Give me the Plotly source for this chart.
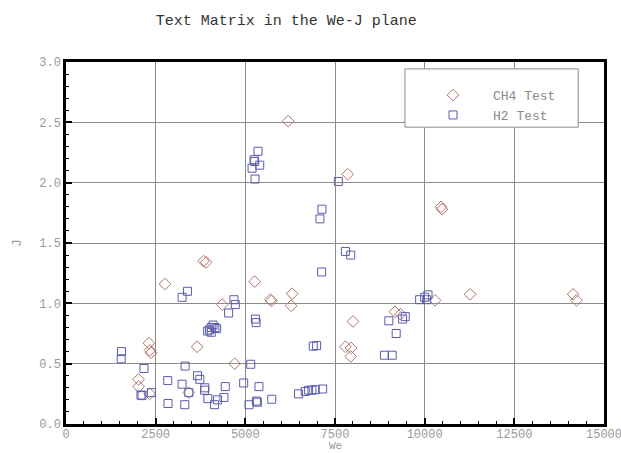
import plotly.graph_objects as go

# CH4 tests (diamonds)
ch4_we = [6194, 7854, 10457, 10485, 3834, 3909, 2761, 5260, 4357, 5700, 5730,
          6306, 6278, 8003, 7789, 7948, 7938, 9170, 9328, 10290, 11269, 14139,
          14231, 2310, 2340, 2370, 3657, 4702, 2024, 2024, 2332, 3424]
ch4_j = [2.51, 2.07, 1.80, 1.78, 1.35, 1.34, 1.16, 1.18, 0.99, 1.03, 1.02,
         1.08, 0.98, 0.85, 0.64, 0.63, 0.56, 0.93, 0.91, 1.025, 1.075, 1.075,
         1.025, 0.67, 0.61, 0.59, 0.64, 0.50, 0.37, 0.31, 0.25, 0.26]

# H2 tests (squares)
h2_we = [5354, 5243, 5260, 5401, 5187, 5270, 7593, 7136, 7080, 7790, 7938, 7127,
         3386, 3237, 4683, 4720, 4534, 5280, 5300,
         3950, 4000, 4050, 4100, 4150, 4200, 4050,
         1548, 1539, 2173, 3321, 5150, 3666, 3731, 2836, 3237, 3872, 3863,
         2090, 2120, 2380, 4440, 4403, 3955, 4226, 4142, 2845, 3312, 4954,
         5380, 5337, 5308, 5103, 5737,
         6484, 6670, 6763, 6857, 6950, 7155,
         6894, 6987, 9001, 9384, 9459, 9206, 8880, 9094,
         9860, 10000, 10093, 10056, 3424]
h2_j = [2.26, 2.19, 2.175, 2.145, 2.12, 2.03, 2.01, 1.78, 1.70, 1.43, 1.40, 1.26,
        1.10, 1.05, 1.03, 0.99, 0.92, 0.87, 0.84,
        0.77, 0.78, 0.80, 0.82, 0.80, 0.79, 0.76,
        0.60, 0.54, 0.46, 0.48, 0.495, 0.40, 0.37, 0.36, 0.33, 0.30, 0.28,
        0.24, 0.235, 0.26, 0.31, 0.22, 0.21, 0.20, 0.16, 0.17, 0.16, 0.34,
        0.31, 0.18, 0.19, 0.16, 0.205,
        0.25, 0.27, 0.28, 0.28, 0.285, 0.29,
        0.645, 0.65, 0.855, 0.87, 0.89, 0.75, 0.57, 0.57,
        1.03, 1.05, 1.07, 1.03, 0.26]

x_ticks = [0, 2500, 5000, 7500, 10000, 12500, 15000]
y_ticks = [0.0, 0.5, 1.0, 1.5, 2.0, 2.5, 3.0]

FONT = "Courier New, Liberation Mono, monospace"

fig = go.Figure()
fig.add_trace(go.Scatter(
    x=ch4_we, y=ch4_j, mode="markers", name="CH4 Test",
    marker=dict(symbol="diamond-open", size=9, color="#b27468",
                line=dict(width=1, color="#b27468"))))
fig.add_trace(go.Scatter(
    x=h2_we, y=h2_j, mode="markers", name="H2 Test",
    marker=dict(symbol="square-open", size=8, color="#5c5cae",
                line=dict(width=1, color="#5c5cae"))))

axis_common = dict(
    showline=True, linecolor="black", linewidth=2.5, mirror=True,
    showgrid=True, gridcolor="#8c8c8c", gridwidth=1, zeroline=False,
    ticks="inside", ticklen=6, tickwidth=2, tickcolor="black",
    ticklabeloverflow="allow", automargin=False,
    tickfont=dict(family=FONT, size=12, color="#999999"),
)

fig.update_xaxes(range=[0, 15000], tickvals=x_ticks,
                 ticktext=[str(v) for v in x_ticks], ticklabelstandoff=-3,
                 minor=dict(ticks="inside", dtick=500, ticklen=3, tickwidth=1,
                            tickcolor="black", showgrid=False),
                 **axis_common)
fig.update_yaxes(range=[0, 3.0], tickvals=y_ticks,
                 ticktext=["%.1f" % v for v in y_ticks],
                 minor=dict(ticks="inside", dtick=0.1, ticklen=3, tickwidth=1,
                            tickcolor="black", showgrid=False),
                 **axis_common)

fig.update_layout(
    width=621, height=453,
    margin=dict(l=66, r=17, t=62, b=29, autoexpand=False),
    paper_bgcolor="white", plot_bgcolor="white",
    showlegend=True,
    title=dict(text="Text Matrix in the We-J plane", x=0.461, xanchor="center",
               y=1 - 20 / 453, yanchor="middle",
               font=dict(family=FONT, size=15, color="#333333")),
    legend=dict(x=0.645, y=0.95, xanchor="left", yanchor="top",
                bgcolor="rgba(0,0,0,0)", borderwidth=0,
                itemwidth=70, tracegroupgap=0,
                font=dict(family=FONT, size=13, color="#8a8a8a")),
    shapes=[dict(type="rect", xref="paper", yref="paper",
                 x0=0.630, x1=0.952, y0=0.820, y1=0.981,
                 line=dict(color="#8c8c8c", width=1), fillcolor="white",
                 layer="above")],
    annotations=[
        dict(text="We", xref="paper", yref="paper", x=0.5, y=-0.0801,
             xanchor="center", yanchor="bottom", showarrow=False, borderpad=0,
             font=dict(family=FONT, size=11, color="#999999")),
        dict(text="J", xref="paper", yref="paper", x=-0.091, y=0.5,
             xanchor="center", yanchor="middle", showarrow=False, textangle=-90,
             font=dict(family=FONT, size=13, color="#999999")),
    ],
)

fig.write_html("out.html")
